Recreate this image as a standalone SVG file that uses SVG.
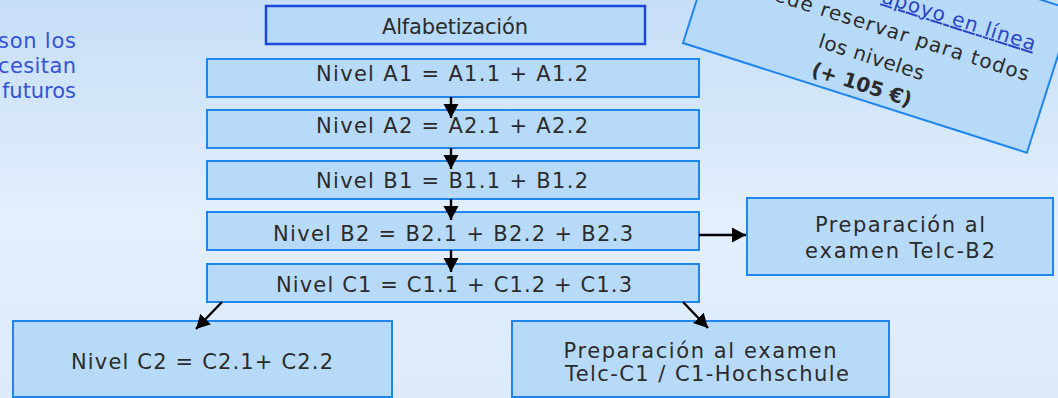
<svg xmlns="http://www.w3.org/2000/svg" width="1058" height="398" viewBox="0 0 1058 398">
<defs>
<linearGradient id="bg" x1="0" y1="0" x2="0" y2="1">
<stop offset="0" stop-color="#c6def7"/>
<stop offset="0.55" stop-color="#e3effc"/>
<stop offset="1" stop-color="#dceafa"/>
</linearGradient>
<marker id="ah" markerUnits="userSpaceOnUse" markerWidth="15" markerHeight="16" refX="14" refY="7.5" orient="auto">
<path d="M0,0 L14,7.5 L0,15 z" fill="#000"/>
</marker>
<style>
.box{fill:#b8daf9;stroke:#1f86ee;stroke-width:2}
.boxd{fill:#b8daf9;stroke:#1b48d6;stroke-width:2.5}
.t{font-family:"DejaVu Sans",sans-serif;font-size:21px;fill:#2b2b2b;text-anchor:middle}
.side{font-family:"DejaVu Sans",sans-serif;font-size:21px;fill:#3354d6;text-anchor:end}
.r{font-family:"DejaVu Sans",sans-serif;font-size:20px;fill:#2b2b2b;text-anchor:middle}
.link{font-family:"DejaVu Sans",sans-serif;font-size:20px;fill:#2845c8;text-decoration:underline;text-anchor:end}
.c{stroke:#000;stroke-width:2.4;fill:none;marker-end:url(#ah)}
</style>
</defs>
<rect width="1058" height="398" fill="url(#bg)"/>

<g id="side-text">
<text class="side" x="76" y="48" textLength="78" lengthAdjust="spacing">son los</text>
<text class="side" x="76" y="73" textLength="78" lengthAdjust="spacing">cesitan</text>
<text class="side" x="76" y="98" textLength="74" lengthAdjust="spacing">futuros</text>
</g>

<g id="online">
<g transform="translate(683,43) rotate(17.7)">
<rect x="0" y="-150" width="361" height="150" fill="#b8daf9" stroke="#1f86ee" stroke-width="2"/>
<text class="link" x="336" y="-99" textLength="160" lengthAdjust="spacing">apoyo en línea</text>
<text class="r" x="192" y="-68" textLength="294" lengthAdjust="spacing">puede reservar para todos</text>
<text class="r" x="184" y="-37" textLength="110" lengthAdjust="spacing">los niveles</text>
<text class="r" x="183" y="-8" font-weight="bold" textLength="104" lengthAdjust="spacing">(+ 105 €)</text>
</g>
</g>

<g id="alfa">
<rect class="boxd" x="266" y="6" width="379" height="38"/>
<text class="t" x="455" y="34" textLength="146" lengthAdjust="spacing">Alfabetización</text>
</g>
<g id="a1">
<rect class="box" x="207" y="59" width="492" height="38"/>
<text class="t" x="452" y="81" textLength="272" lengthAdjust="spacing">Nivel A1 = A1.1 + A1.2</text>
</g>
<g id="a2">
<rect class="box" x="207" y="110" width="492" height="38"/>
<text class="t" x="452" y="133" textLength="272" lengthAdjust="spacing">Nivel A2 = A2.1 + A2.2</text>
</g>
<g id="b1">
<rect class="box" x="207" y="161" width="492" height="38"/>
<text class="t" x="452" y="188" textLength="272" lengthAdjust="spacing">Nivel B1 = B1.1 + B1.2</text>
</g>
<g id="b2">
<rect class="box" x="207" y="212" width="492" height="38"/>
<text class="t" x="453" y="241" textLength="360" lengthAdjust="spacing">Nivel B2 = B2.1 + B2.2 + B2.3</text>
</g>
<g id="c1">
<rect class="box" x="207" y="264" width="492" height="38"/>
<text class="t" x="454" y="292" textLength="356" lengthAdjust="spacing">Nivel C1 = C1.1 + C1.2 + C1.3</text>
</g>
<g id="prep-b2">
<rect class="box" x="747" y="198" width="306" height="77"/>
<text class="t" x="900" y="232" textLength="170" lengthAdjust="spacing">Preparación al</text>
<text class="t" x="900" y="258" textLength="190" lengthAdjust="spacing">examen Telc-B2</text>
</g>
<g id="c2">
<rect class="box" x="13" y="321" width="379" height="76"/>
<text class="t" x="202" y="369" textLength="262" lengthAdjust="spacing">Nivel C2 = C2.1+ C2.2</text>
</g>
<g id="prep-c1">
<rect class="box" x="512" y="321" width="377" height="76"/>
<text class="t" x="700" y="358" textLength="273" lengthAdjust="spacing">Preparación al examen</text>
<text class="t" x="707" y="381" textLength="284" lengthAdjust="spacing">Telc-C1 / C1-Hochschule</text>
</g>

<g id="connectors">
<line class="c" x1="451" y1="97" x2="451" y2="118"/>
<line class="c" x1="451" y1="148" x2="451" y2="169"/>
<line class="c" x1="451" y1="199" x2="451" y2="220"/>
<line class="c" x1="451" y1="250" x2="451" y2="272"/>
<line class="c" x1="699" y1="235" x2="746" y2="235"/>
<line class="c" x1="222" y1="302" x2="196" y2="329"/>
<line class="c" x1="683" y1="302" x2="708" y2="328"/>
</g>
</svg>
